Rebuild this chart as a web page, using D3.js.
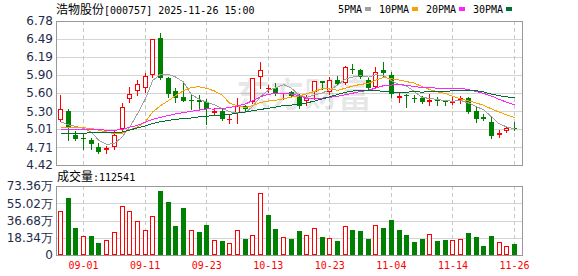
<!DOCTYPE html>
<html>
<head>
<meta charset="utf-8">
<script src="https://cdn.jsdelivr.net/npm/d3@7"></script>
<style>
body { margin: 0; background: #fff; }
svg { display: block; }
</style>
</head>
<body>
<div id="chart"></div>
<script>
var dates = ["08-27","08-28","08-29","09-01","09-02","09-03","09-04","09-05","09-08","09-09",
  "09-10","09-11","09-12","09-15","09-16","09-17","09-18","09-19","09-22","09-23",
  "09-24","09-25","09-26","09-29","09-30","10-09","10-10","10-13","10-14","10-15",
  "10-16","10-17","10-20","10-21","10-22","10-23","10-24","10-27","10-28","10-29",
  "10-30","10-31","11-03","11-04","11-05","11-06","11-07","11-10","11-11","11-12",
  "11-13","11-14","11-17","11-18","11-19","11-20","11-21","11-24","11-25","11-26"];

var opens = [5.15,5.31,4.91,4.86,4.83,4.72,4.66,4.72,5.01,5.50,
  5.64,5.68,5.89,6.50,5.85,5.64,5.53,5.49,5.49,5.45,
  5.27,5.31,5.17,5.27,5.39,5.46,5.86,5.68,5.69,5.59,
  5.62,5.55,5.47,5.61,5.79,5.61,5.82,5.76,6.00,5.98,
  5.81,5.70,5.98,5.90,5.51,5.56,5.51,5.51,5.46,5.49,
  5.47,5.43,5.49,5.52,5.31,5.20,5.13,4.91,4.97,5.03];
var highs = [5.57,5.34,4.97,4.94,4.87,4.78,4.73,4.99,5.44,5.70,
  5.82,5.93,6.49,6.59,5.86,5.68,5.77,5.58,5.57,5.50,
  5.35,5.35,5.24,5.51,5.40,5.84,6.10,5.73,5.77,5.60,
  5.63,5.58,5.56,5.79,5.80,5.86,5.88,6.04,6.08,5.99,
  5.86,6.02,6.10,5.95,5.61,5.58,5.57,5.55,5.58,5.53,
  5.49,5.53,5.55,5.53,5.37,5.26,5.21,4.99,5.06,5.13];
var lows = [5.14,4.83,4.83,4.69,4.69,4.62,4.62,4.69,4.98,5.46,
  5.57,5.62,5.86,5.83,5.54,5.46,5.47,5.33,5.35,5.10,
  5.26,5.15,5.11,5.11,5.32,5.44,5.68,5.62,5.57,5.50,
  5.53,5.35,5.41,5.50,5.67,5.59,5.73,5.75,5.92,5.84,
  5.66,5.68,5.87,5.53,5.46,5.37,5.45,5.43,5.41,5.41,
  5.40,5.42,5.43,5.27,5.13,5.15,4.87,4.88,4.96,5.00];
var closes = [5.33,5.02,4.84,4.84,4.77,4.64,4.70,4.91,5.37,5.58,
  5.74,5.88,6.48,5.85,5.58,5.51,5.47,5.47,5.46,5.33,
  5.30,5.18,5.18,5.39,5.33,5.84,5.97,5.69,5.59,5.60,
  5.55,5.38,5.52,5.79,5.76,5.81,5.75,6.02,5.97,5.87,
  5.69,5.95,5.93,5.58,5.55,5.55,5.50,5.46,5.49,5.47,
  5.45,5.46,5.52,5.29,5.17,5.18,4.90,4.94,5.03,5.02];

// volume in 万
var volumes = [46.8,61.0,29.1,20.2,20.2,13.1,15.9,24.5,52.1,46.8,
  36.1,26.6,41.5,68.0,56.3,30.8,50.0,26.6,24.5,31.9,
  15.6,14.9,12.4,26.2,17.0,20.9,65.6,42.5,27.6,18.8,
  16.7,25.5,20.9,28.4,19.1,17.7,14.9,30.5,26.2,25.5,
  17.0,31.5,28.7,37.2,26.6,21.3,14.2,17.0,22.3,15.2,
  15.9,15.9,17.0,23.7,19.1,9.6,20.2,13.8,9.6,11.25];
var volUp = [1,0,0,1,0,0,1,1,1,1,
  1,1,1,0,0,0,0,1,0,0,
  1,0,1,1,0,1,1,0,0,1,
  0,0,1,1,0,1,0,1,0,0,
  0,1,0,0,0,0,0,0,1,0,
  0,1,1,0,0,0,0,1,1,0];

var ma5 = [5.13,5.08,5.05,5.02,4.96,4.822,4.758,4.772,4.878,5.04,
  5.26,5.496,5.81,5.906,5.906,5.86,5.778,5.576,5.498,5.448,
  5.406,5.348,5.29,5.276,5.276,5.384,5.542,5.644,5.684,5.738,
  5.68,5.562,5.528,5.568,5.60,5.652,5.726,5.826,5.862,5.884,
  5.86,5.90,5.882,5.804,5.74,5.712,5.622,5.528,5.51,5.494,
  5.474,5.466,5.478,5.438,5.378,5.324,5.212,5.096,5.044,5.014];
var ma10 = [5.04,5.04,5.03,5.03,5.02,4.99,4.96,4.93,4.94,5.00,
  5.041,5.127,5.291,5.392,5.473,5.56,5.637,5.693,5.702,5.677,
  5.633,5.563,5.433,5.387,5.362,5.395,5.445,5.467,5.48,5.507,
  5.532,5.552,5.586,5.626,5.669,5.666,5.644,5.677,5.715,5.742,
  5.756,5.813,5.854,5.833,5.812,5.786,5.761,5.705,5.657,5.617,
  5.593,5.544,5.503,5.474,5.436,5.399,5.339,5.287,5.241,5.196];
var ma20 = [5.01,5.01,5.01,5.01,5.00,5.00,4.99,4.99,5.00,5.04,
  5.07,5.12,5.17,5.20,5.23,5.26,5.28,5.30,5.32,5.339,
  5.337,5.345,5.362,5.390,5.418,5.478,5.541,5.58,5.591,5.592,
  5.583,5.558,5.510,5.507,5.516,5.531,5.545,5.572,5.598,5.625,
  5.644,5.683,5.72,5.730,5.741,5.726,5.703,5.691,5.686,5.680,
  5.675,5.679,5.679,5.654,5.624,5.593,5.55,5.496,5.449,5.407];
var ma30 = [4.94,4.94,4.94,4.94,4.95,4.95,4.95,4.95,4.96,4.99,
  5.03,5.06,5.10,5.13,5.15,5.17,5.18,5.19,5.21,5.22,
  5.23,5.24,5.25,5.27,5.29,5.31,5.33,5.35,5.37,5.395,
  5.402,5.414,5.437,5.468,5.501,5.540,5.575,5.612,5.632,5.642,
  5.640,5.643,5.624,5.615,5.614,5.616,5.617,5.616,5.617,5.622,
  5.627,5.636,5.648,5.644,5.639,5.617,5.581,5.556,5.538,5.518];

var priceTicks = [6.78, 6.49, 6.19, 5.90, 5.60, 5.30, 5.01, 4.71, 4.42];
var volTicks = [73.36, 55.02, 36.68, 18.34, 0];
var xTicks = ["09-01","09-11","09-23","10-13","10-23","11-04","11-14","11-26"];
var maNames = ["5PMA", "10PMA", "20PMA", "30PMA"];

var maColors = ["#a0a0a0", "#f5a300", "#ff22ff", "#006f33"];
var maSeries = [ma5, ma10, ma20, ma30];
var upColor = "#ff0000", downColor = "#008000";

var W = 578, H = 276;
var left = 56, right = 522;
var pTop = 21, pBottom = 165, vTop = 186, vBottom = 255;

var svg = d3.select("#chart").append("svg")
  .attr("width", W).attr("height", H)
  .style("font-family", "'DejaVu Sans', sans-serif");

var x = d3.scalePoint().domain(dates).range([60, 514]);
var y = d3.scaleLinear().domain([4.42, 6.78]).range([pBottom, pTop]);
var yv = d3.scaleLinear().domain([0, 73.36]).range([vBottom, vTop]);

function px(v) { return Math.round(v) + 0.5; }

// title
var title = svg.append("text").attr("x", 56).attr("y", 14).attr("fill", "#000");
title.append("tspan").style("font-family", "'Noto Sans CJK SC'").style("font-size", "12px").text("浩物股份");
title.append("tspan").style("font-family", "'DejaVu Sans Mono'").style("font-size", "10px").text("[000757] 2025-11-26 15:00");

// legend
var lx = 338;
maNames.forEach(function(n, i) {
  var t = svg.append("text").attr("x", lx).attr("y", 13)
    .style("font-family", "'DejaVu Sans Mono'").style("font-size", "10px")
    .attr("fill", "#000").text(n);
  var w = t.node().getComputedTextLength();
  svg.append("rect").attr("x", Math.round(lx + w + 3)).attr("y", 7)
    .attr("width", 6).attr("height", 4).attr("fill", maColors[i]);
  lx = Math.round(lx + w + 3 + 6 + 8);
});

// panels: grid
function panel(top, bottom, ticks, scale) {
  var g = svg.append("g").attr("shape-rendering", "crispEdges");
  g.selectAll("line.h").data(ticks.slice(1, ticks.length - 1)).enter().append("line")
    .attr("x1", left).attr("x2", right)
    .attr("y1", function(d) { return px(scale(d)); })
    .attr("y2", function(d) { return px(scale(d)); })
    .attr("stroke", "#d4d4d4");
  g.selectAll("line.v").data(xTicks).enter().append("line")
    .attr("x1", function(d) { return px(x(d)); })
    .attr("x2", function(d) { return px(x(d)); })
    .attr("y1", top).attr("y2", bottom)
    .attr("stroke", "#c8c8c8").attr("stroke-dasharray", "4,3");
  g.append("rect").attr("x", left + 0.5).attr("y", top + 0.5)
    .attr("width", right - left).attr("height", bottom - top)
    .attr("fill", "none").attr("stroke", "#999");
}
panel(pTop, pBottom, priceTicks, y);
panel(vTop, vBottom, volTicks, yv);

// watermark
svg.append("text").attr("x", 236).attr("y", 107)
  .style("font-family", "'Noto Sans CJK SC'").style("font-size", "34px").style("font-weight", "bold")
  .attr("fill", "#000").attr("fill-opacity", 0.09).text("东方财富");

// y labels
svg.append("g").selectAll("text").data(priceTicks).enter().append("text")
  .attr("x", 53).attr("y", function(d) { return y(d); })
  .attr("dy", "0.36em").attr("text-anchor", "end")
  .style("font-size", "12px").attr("fill", "#1f2c4a")
  .text(function(d) { return d.toFixed(2); });

svg.append("g").selectAll("text").data(volTicks).enter().append("text")
  .attr("x", 53).attr("y", function(d) { return yv(d); })
  .attr("dy", "0.36em").attr("text-anchor", "end")
  .style("font-size", "12px").attr("fill", "#1f2c4a")
  .text(function(d) { return d === 0 ? "0" : d.toFixed(2) + "万"; });

// x labels
svg.append("g").selectAll("text").data(xTicks).enter().append("text")
  .attr("x", function(d) { return x(d) + 0.5; }).attr("y", 269)
  .attr("text-anchor", "middle")
  .style("font-family", "'DejaVu Sans Mono'").style("font-size", "10px")
  .attr("fill", "#ff0000").text(function(d) { return d; });

// volume title
var vt = svg.append("text").attr("x", 57).attr("y", 181).attr("fill", "#000");
vt.append("tspan").style("font-family", "'Noto Sans CJK SC'").style("font-size", "12px").text("成交量");
vt.append("tspan").style("font-family", "'DejaVu Sans Mono'").style("font-size", "10px").text(":112541");

// candles
var candles = svg.append("g").attr("shape-rendering", "crispEdges");
dates.forEach(function(d, i) {
  var o = opens[i], c = closes[i], up = c > o;
  var col = up ? upColor : downColor;
  var cx = Math.round(x(d));
  var top = Math.round(y(Math.max(o, c)));
  var bot = Math.round(y(Math.min(o, c)));
  candles.append("line")
    .attr("x1", cx + 0.5).attr("x2", cx + 0.5)
    .attr("y1", Math.round(y(highs[i]))).attr("y2", Math.round(y(lows[i])) + 1)
    .attr("stroke", col);
  if (bot - top < 2) {
    candles.append("rect").attr("x", cx - 2).attr("y", top)
      .attr("width", 5).attr("height", Math.max(1, bot - top)).attr("fill", col);
  } else if (up) {
    candles.append("rect").attr("x", cx - 1.5).attr("y", top + 0.5)
      .attr("width", 4).attr("height", bot - top - 1)
      .attr("fill", "#fff").attr("stroke", col);
  } else {
    candles.append("rect").attr("x", cx - 2).attr("y", top)
      .attr("width", 5).attr("height", bot - top).attr("fill", col);
  }
});

// moving averages
maSeries.forEach(function(s, k) {
  var line = d3.line()
    .x(function(v, i) { return x(dates[i]) + 0.5; })
    .y(function(v) { return y(v); });
  svg.append("path").datum(s).attr("d", line)
    .attr("fill", "none").attr("stroke", maColors[k]).attr("stroke-width", 1)
    .attr("shape-rendering", "crispEdges");
});

// volume bars
var vbars = svg.append("g").attr("shape-rendering", "crispEdges");
dates.forEach(function(d, i) {
  var cx = Math.round(x(d));
  var top = Math.round(yv(volumes[i]));
  if (volUp[i]) {
    vbars.append("rect").attr("x", cx - 1.5).attr("y", top + 0.5)
      .attr("width", 4).attr("height", vBottom - top - 1)
      .attr("fill", "#fff").attr("stroke", upColor);
  } else {
    vbars.append("rect").attr("x", cx - 2).attr("y", top)
      .attr("width", 5).attr("height", vBottom - top).attr("fill", downColor);
  }
});
</script>
</body>
</html>
